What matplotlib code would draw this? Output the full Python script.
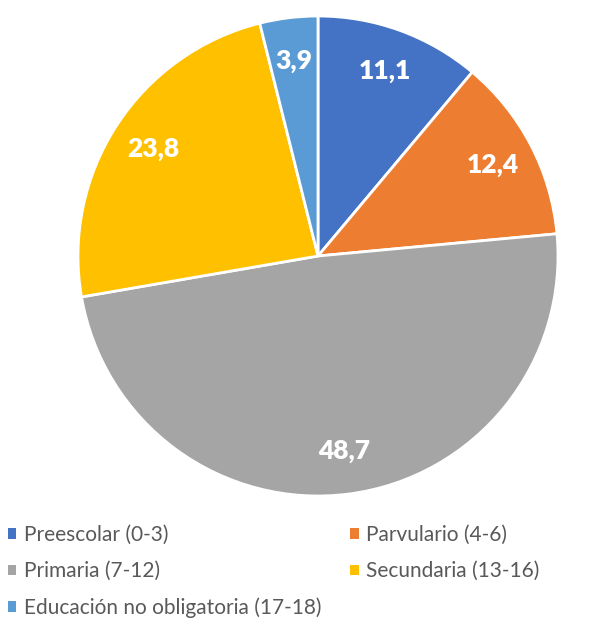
import matplotlib
matplotlib.use("Agg")
import matplotlib.pyplot as plt
from matplotlib.patches import Patch

plt.rcParams['font.family'] = ['Lato', 'DejaVu Sans']

categories = ["Preescolar (0-3)", "Parvulario (4-6)", "Primaria (7-12)",
              "Secundaria (13-16)", "Educación no obligatoria (17-18)"]
values = [11.1, 12.4, 48.7, 23.8, 3.9]
colors = ["#4472C4", "#ED7D31", "#A5A5A5", "#FFC000", "#5B9BD5"]

W, H = 607, 619
fig = plt.figure(figsize=(W / 100, H / 100), dpi=100)
ax = fig.add_axes([78 / W, (H - 496) / H, 480 / W, 480 / H])

total = sum(values)
wedges, texts, autotexts = ax.pie(
    values, colors=colors, startangle=90, counterclock=False, radius=1,
    autopct=lambda p: f"{p * total / 100:.1f}".replace(".", ","),
    pctdistance=0.82,
    wedgeprops=dict(edgecolor="white", linewidth=2),
    textprops=dict(color="white", fontsize=19, fontweight="heavy"))
ax.set_xlim(-1, 1)
ax.set_ylim(-1, 1)
ax.set_aspect("equal")

handles = [Patch(facecolor=c, edgecolor="none") for c in colors]
order = [0, 2, 4, 1, 3]
fig.legend([handles[i] for i in order], [categories[i] for i in order],
           ncol=2, loc="upper left", bbox_to_anchor=(8 / W, 1 - 525 / H),
           frameon=False, fontsize=15, labelcolor="#595959",
           handlelength=0.4, handleheight=0.4, handletextpad=0.35,
           columnspacing=1.4, labelspacing=0.78, borderpad=0, borderaxespad=0)

fig.savefig("out.png", dpi=100)
